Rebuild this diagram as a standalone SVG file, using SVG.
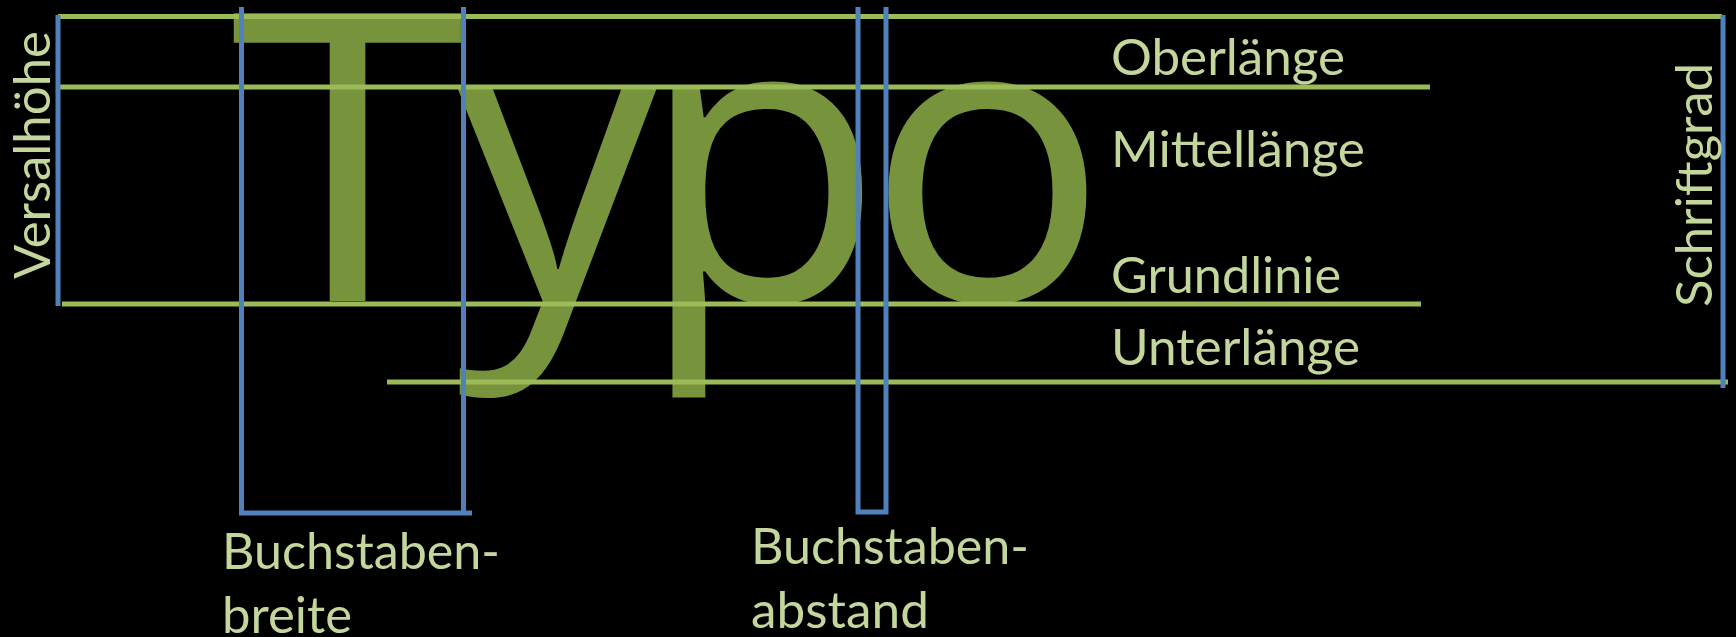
<svg xmlns="http://www.w3.org/2000/svg" width="1736" height="637" viewBox="0 0 1736 637">
<style>
.big{font-family:"Open Sans","Noto Sans",sans-serif;font-size:403px;fill:#77933C}
.lbl{font-family:Lato,"Open Sans",sans-serif;font-size:50px;fill:#C3D69B}
.g{stroke:#9BBB59;stroke-width:5;fill:none}
.b{stroke:#4F81BD;stroke-width:5;fill:none}
</style>
<rect width="1736" height="637" fill="#000"/>
<g id="typo">
<text class="big" transform="translate(230,301) scale(1.06,1)" x="0" y="0">T</text>
<text class="big" x="456 638 866" y="301">ypo</text>
</g>
<g id="connectors">
<g id="green-lines">
<line class="g" x1="58" y1="16.5" x2="1722" y2="16.5"/>
<line class="g" x1="60" y1="87" x2="1430" y2="87"/>
<line class="g" x1="62" y1="304" x2="1421" y2="304"/>
<line class="g" x1="387" y1="382" x2="1728" y2="382"/>
</g>
<g id="blue-lines">
<line class="b" x1="58" y1="15" x2="58" y2="306"/>
<path class="b" d="M241.5 7 V513 H472"/>
<line class="b" x1="463.5" y1="7" x2="463.5" y2="513"/>
<path class="b" d="M858 7 V512 H886 V7"/>
<line class="b" x1="1723" y1="15" x2="1723" y2="388"/>
</g>
</g>
<g id="label-oberlaenge"><text class="lbl" x="1111" y="75" textLength="234" lengthAdjust="spacingAndGlyphs">Oberlänge</text></g>
<g id="label-mittellaenge"><text class="lbl" x="1111" y="167" textLength="254" lengthAdjust="spacingAndGlyphs">Mittellänge</text></g>
<g id="label-grundlinie"><text class="lbl" x="1111" y="293" textLength="230" lengthAdjust="spacingAndGlyphs">Grundlinie</text></g>
<g id="label-unterlaenge"><text class="lbl" x="1111" y="365" textLength="249" lengthAdjust="spacingAndGlyphs">Unterlänge</text></g>
<g id="label-versalhoehe"><text class="lbl" transform="translate(50,279) rotate(-90)" textLength="248" lengthAdjust="spacingAndGlyphs">Versalhöhe</text></g>
<g id="label-schriftgrad"><text class="lbl" transform="translate(1712,307) rotate(-90)" textLength="244" lengthAdjust="spacingAndGlyphs">Schriftgrad</text></g>
<g id="label-buchstabenbreite"><text class="lbl" x="222" y="569"><tspan textLength="278" lengthAdjust="spacingAndGlyphs">Buchstaben-</tspan><tspan x="222" y="633" textLength="130" lengthAdjust="spacingAndGlyphs">breite</tspan></text></g>
<g id="label-buchstabenabstand"><text class="lbl" x="751" y="564"><tspan textLength="278" lengthAdjust="spacingAndGlyphs">Buchstaben-</tspan><tspan x="751" y="628" textLength="178" lengthAdjust="spacingAndGlyphs">abstand</tspan></text></g>
</svg>
